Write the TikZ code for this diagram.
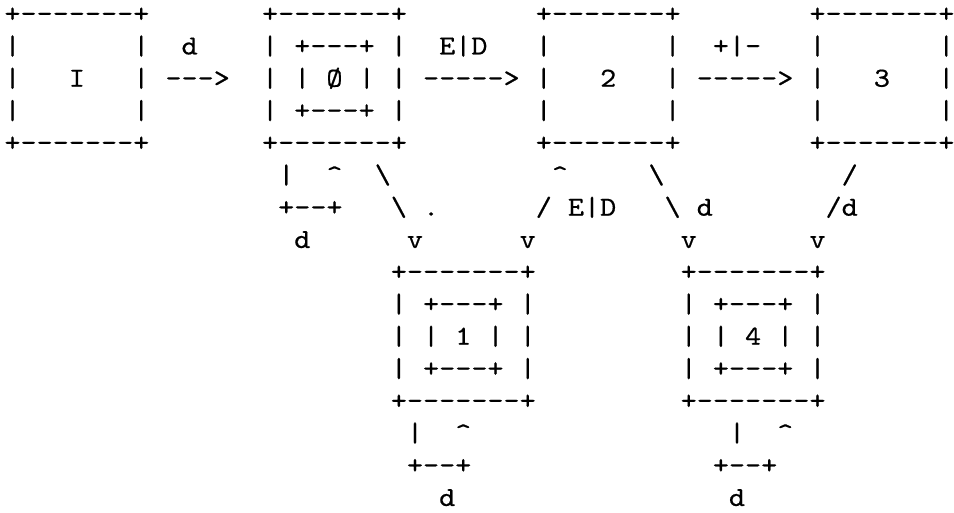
\documentclass[tikz,border=0pt]{standalone}
\usepackage{fontspec}
\usepackage{graphicx}
% typewriter face for the character diagram (no TeX dash ligatures)
\newfontfamily\asciifont{lmmono10-regular}[Extension=.otf, FakeBold=0.5]
% horizontal stretch so one character cell is 16.1 units wide
\newcommand\asciiline[1]{\scalebox{1.1152}[1]{#1}}
\newcommand\bs{\textbackslash}
\newcommand\up{\textasciicircum}
% one row of the diagram: name, first column, row number, characters
\newcommand\txtrow[4]{%
  \node[rowtext] (#1) at ({4.45+16.1*#2},{22.2+32.25*#3}) {\asciiline{#4}};}
\tikzset{
  rowtext/.style={anchor=base west, inner sep=0pt, outer sep=0pt,
    font={\asciifont\fontsize{27.5}{27.5}\selectfont}},
}
\begin{document}
\begin{tikzpicture}[x=1pt,y=-1pt]
\path[use as bounding box, fill=white] (0,0) rectangle (954,512);
% top row of states
\txtrow{row0}{0}{0}{+-------+~~~~~~~+-------+~~~~~~~~+-------+~~~~~~~~+-------+}
\txtrow{row1}{0}{1}{|~~~~~~~|~~d~~~~|~+---+~|~~E|D~~~|~~~~~~~|~~+|-~~~|~~~~~~~|}
\txtrow{row2}{0}{2}{|~~~I~~~|~--->~~|~|~Ø~|~|~----->~|~~~2~~~|~----->~|~~~3~~~|}
\txtrow{row3}{0}{3}{|~~~~~~~|~~~~~~~|~+---+~|~~~~~~~~|~~~~~~~|~~~~~~~~|~~~~~~~|}
\txtrow{row4}{0}{4}{+-------+~~~~~~~+-------+~~~~~~~~+-------+~~~~~~~~+-------+}
% links down to the lower states
\txtrow{row5}{17}{5}{|~~\up~~\bs~~~~~~~~~~\up~~~~~\bs~~~~~~~~~~~/}
\txtrow{row6}{17}{6}{+--+~~~\bs~.~~~~~~/~E|D~~~\bs~d~~~~~~~/d}
\txtrow{row7}{18}{7}{d~~~~~~v~~~~~~v~~~~~~~~~v~~~~~~~v}
% lower row of states
\txtrow{row8}{24}{8}{+-------+~~~~~~~~~+-------+}
\txtrow{row9}{24}{9}{|~+---+~|~~~~~~~~~|~+---+~|}
\txtrow{row10}{24}{10}{|~|~1~|~|~~~~~~~~~|~|~4~|~|}
\txtrow{row11}{24}{11}{|~+---+~|~~~~~~~~~|~+---+~|}
\txtrow{row12}{24}{12}{+-------+~~~~~~~~~+-------+}
% self loops under the lower states
\txtrow{row13}{25}{13}{|~~\up~~~~~~~~~~~~~~~~|~~\up}
\txtrow{row14}{25}{14}{+--+~~~~~~~~~~~~~~~+--+}
\txtrow{row15}{27}{15}{d~~~~~~~~~~~~~~~~~d}
\end{tikzpicture}
\end{document}
